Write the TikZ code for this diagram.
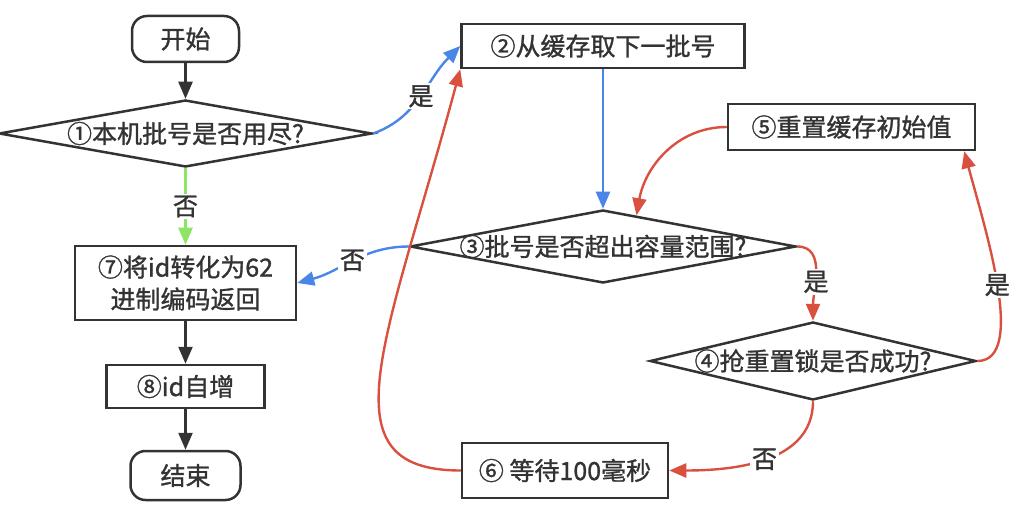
\documentclass[tikz,border=0pt]{standalone}
\usepackage{fontspec}
\setmainfont{Noto Sans CJK SC}[FakeBold=1.2]
\usetikzlibrary{shapes.geometric,arrows.meta}
\definecolor{ink}{HTML}{333333}
\definecolor{fblue}{HTML}{4A86E8}
\definecolor{fred}{HTML}{D9503F}
\definecolor{fgreen}{HTML}{8CE563}
\begin{document}
\begin{tikzpicture}[x=1pt,y=1pt,
 font=\fontsize{25}{32}\selectfont, text=ink,
 boxnode/.style={draw=ink, line width=2.5pt, rectangle, inner sep=0pt, align=center},
 termnode/.style={draw=ink, line width=2.5pt, rectangle, rounded corners=15pt, inner sep=0pt},
 dianode/.style={draw=ink, line width=2.5pt, diamond, inner sep=0pt},
 arr/.style={line width=2.4pt, -{Triangle[length=17pt,width=14pt]}},
 lbl/.style={fill=white, inner sep=2pt, text=ink},
]
\useasboundingbox (0,0) rectangle (1022,512);
% left column
\node[termnode, minimum width=107pt, minimum height=46pt] (st) at (185.5,473) {开始};
\node[dianode, minimum width=373pt, minimum height=67pt, label={center:①本机批号是否用尽?}] (d1) at (185.5,378.5) {};
\node[boxnode, minimum width=221pt, minimum height=74pt] (b7) at (185.5,229) {⑦将id转化为62\\进制编码返回};
\node[boxnode, minimum width=158pt, minimum height=43pt] (b8) at (185.5,125.5) {⑧id自增};
\node[termnode, minimum width=110pt, minimum height=49pt] (en) at (185.5,36.5) {结束};
% right part
\node[boxnode, minimum width=283pt, minimum height=44pt] (b2) at (603,466) {②从缓存取下一批号};
\node[boxnode, minimum width=247pt, minimum height=46pt] (b5) at (851.5,385) {⑤重置缓存初始值};
\node[dianode, minimum width=386pt, minimum height=73pt, label={center:③批号是否超出容量范围?}] (d3) at (603,265.5) {};
\node[dianode, minimum width=326pt, minimum height=78pt, label={center:④抢重置锁是否成功?}] (d4) at (813,151) {};
\node[boxnode, minimum width=206pt, minimum height=55pt] (b6) at (565,41.5) {⑥ 等待100毫秒};
% connectors
\draw[arr, ink] (st.south) -- (d1.north);
\draw[arr, fgreen] (d1.south) -- node[lbl]{否} (b7.north);
\draw[arr, ink] (b7.south) -- (b8.north);
\draw[arr, ink] (b8.south) -- (en.north);
\draw[arr, fblue] (d1.east) to[out=20,in=225] node[lbl]{是} (b2.west);
\draw[arr, fblue] (b2.south) -- (d3.north);
\draw[arr, fred] (b5.west) to[out=180,in=80] (d3.43);
\draw[arr, fblue] (d3.west) to[out=180,in=15] node[lbl]{否} (b7.east);
\draw[arr, fred] (d3.east) to[out=0,in=90] node[lbl,pos=0.6]{是} (d4.north);
\draw[arr, fred] (d4.east) to[out=0,in=285,out distance=50pt,in distance=80pt] node[lbl]{是} ([xshift=-12pt]b5.south east);
\draw[arr, fred] (d4.south) to[out=270,in=0] node[lbl]{否} (b6.east);
\draw[arr, fred] (b6.west) to[out=180,in=255,out distance=140pt,in distance=280pt] (b2.south west);
\end{tikzpicture}
\end{document}
